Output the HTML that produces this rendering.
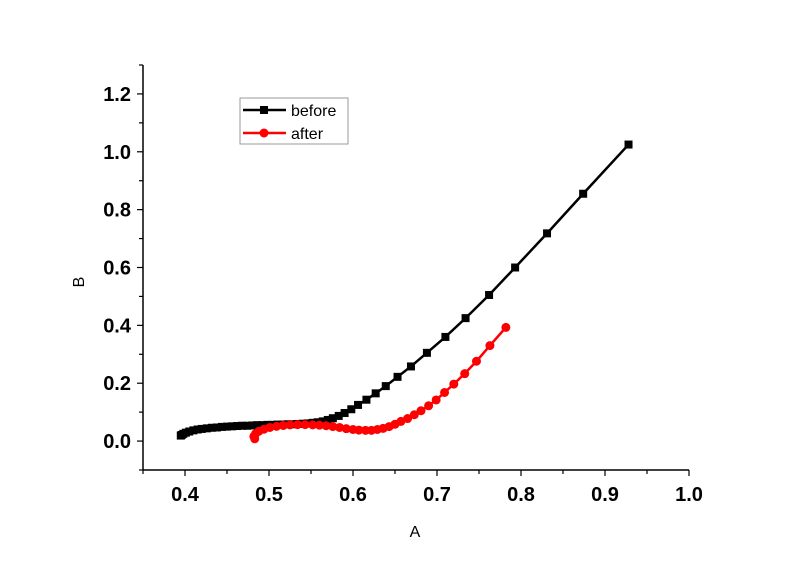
<!DOCTYPE html>
<html><head><meta charset="utf-8"><style>
html,body{margin:0;padding:0;background:#fff;}
svg{display:block;font-family:"Liberation Sans",Arial,sans-serif;}
</style></head><body>
<svg id="chart" width="800" height="564">
<g id="axes"></g>
<g id="series"></g>
<g id="legend">
<rect x="240" y="98" width="108" height="46" fill="#fff" stroke="#999" stroke-width="1"/>
<line x1="243" y1="110" x2="286" y2="110" stroke="#000" stroke-width="2.5"/>
<rect x="260" y="106" width="8" height="8" fill="#000"/>
<text x="291" y="116" font-size="16">before</text>
<line x1="243" y1="133" x2="286" y2="133" stroke="#f00" stroke-width="2.5"/>
<circle cx="264" cy="133" r="4.5" fill="#f00"/>
<text x="291" y="139" font-size="16">after</text>
</g>
<text x="415" y="537" font-size="16" text-anchor="middle">A</text>
<text x="84" y="282" font-size="16" text-anchor="middle" transform="rotate(-90 84 282)">B</text>
</svg>
<script>
const xTicks=[0.4,0.5,0.6,0.7,0.8,0.9,1.0];
const xTickLabels=["0.4","0.5","0.6","0.7","0.8","0.9","1.0"];
const yTicks=[0.0,0.2,0.4,0.6,0.8,1.0,1.2];
const yTickLabels=["0.0","0.2","0.4","0.6","0.8","1.0","1.2"];
const beforeX=[0.395,0.396,0.398,0.401,0.405,0.410,0.415,0.420,0.426,0.432,0.438,0.444,0.450,0.456,0.462,0.468,0.474,0.480,0.486,0.492,0.498,0.504,0.510,0.516,0.522,0.528,0.534,0.540,0.546,0.552,0.558,0.564,0.570,0.576,0.583,0.590,0.598,0.606,0.616,0.627,0.639,0.653,0.669,0.688,0.710,0.734,0.762,0.793,0.831,0.874,0.928];
const beforeY=[0.019,0.021,0.025,0.029,0.033,0.037,0.040,0.042,0.044,0.046,0.047,0.049,0.050,0.051,0.052,0.053,0.053,0.054,0.055,0.055,0.056,0.056,0.057,0.057,0.058,0.058,0.059,0.060,0.061,0.063,0.065,0.068,0.073,0.079,0.087,0.097,0.110,0.125,0.143,0.165,0.190,0.222,0.258,0.305,0.360,0.425,0.505,0.600,0.718,0.855,1.025];
const afterX=[0.483,0.482,0.484,0.488,0.494,0.501,0.509,0.517,0.525,0.534,0.543,0.552,0.560,0.568,0.576,0.584,0.592,0.600,0.607,0.615,0.622,0.629,0.636,0.643,0.650,0.657,0.665,0.673,0.681,0.690,0.699,0.709,0.720,0.733,0.747,0.763,0.782];
const afterY=[0.008,0.016,0.025,0.034,0.041,0.047,0.051,0.054,0.056,0.057,0.057,0.056,0.055,0.053,0.050,0.047,0.043,0.040,0.038,0.037,0.037,0.040,0.044,0.050,0.058,0.068,0.078,0.091,0.105,0.122,0.142,0.168,0.197,0.233,0.276,0.330,0.393];
const NS="http://www.w3.org/2000/svg";
const X0=143,X1=731,Y0=470,Y1=65,xMin=0.35,xMax=1.05,yMin=-0.1,yMax=1.3;
function sx(v){return X0+(v-xMin)/(xMax-xMin)*(X1-X0);}
function sy(v){return Y0-(v-yMin)/(yMax-yMin)*(Y0-Y1);}
function mk(tag,attrs,parent){const e=document.createElementNS(NS,tag);for(const k in attrs)e.setAttribute(k,attrs[k]);parent.appendChild(e);return e;}
const axes=document.getElementById('axes');
let e=mk('line',{x1:X0,y1:Y0,x2:sx(1.0),y2:Y0,stroke:'#000','stroke-width':1.5},axes);


e=mk('line',{x1:X0,y1:Y0,x2:X0,y2:Y1,stroke:'#000','stroke-width':1.5},axes);


for(let i=0;i<=13;i++){const v=0.35+i*0.05;if(v>1.0001)break;const x=sx(v);const major=i%2===1;
 e=mk('line',{x1:x,y1:Y0,x2:x,y2:Y0+(major?6:4),stroke:'#000','stroke-width':1.2},axes);
 
 }
xTicks.forEach((v,i)=>{e=mk('text',{x:sx(v),y:Y0+31,'font-size':20,'font-weight':'bold','text-anchor':'middle'},axes);e.textContent=xTickLabels[i];
 
 });
for(let i=0;i<=14;i++){const v=-0.1+i*0.1;const y=sy(v);const major=i%2===1;
 e=mk('line',{x1:X0,y1:y,x2:X0-(major?6:4),y2:y,stroke:'#000','stroke-width':1.2},axes);
 
 }
yTicks.forEach((v,i)=>{e=mk('text',{x:X0-12,y:sy(v)+7,'font-size':20,'font-weight':'bold','text-anchor':'end'},axes);e.textContent=yTickLabels[i];
 
 });
const ser=document.getElementById('series');
function draw(xs,ys,color,name,square){
 const g=mk('g',{},ser);
 
 
 const p=mk('polyline',{points:xs.map((x,i)=>sx(x)+','+sy(ys[i])).join(' '),fill:'none',stroke:color,'stroke-width':2.5},g);
 
 
 xs.forEach((x,i)=>{let m;
  if(square)m=mk('rect',{x:sx(x)-4,y:sy(ys[i])-4,width:8,height:8,fill:color},g);
  else m=mk('circle',{cx:sx(x),cy:sy(ys[i]),r:4.5,fill:color},g);
  
  });
}
draw(beforeX,beforeY,'#000','before',true);
draw(afterX,afterY,'#f00','after',false);
</script>
</body></html>
